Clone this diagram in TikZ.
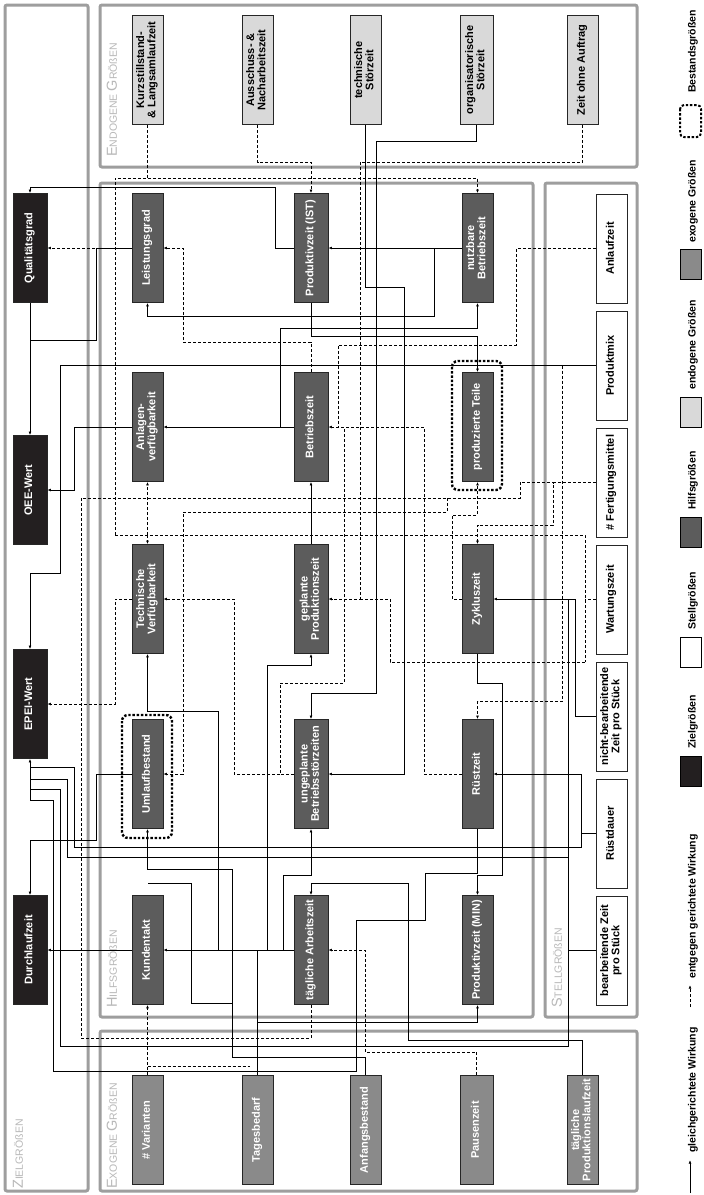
\documentclass[tikz,border=0pt]{standalone}
\usepackage{fontspec}
\setmainfont{Liberation Sans}
\usetikzlibrary{arrows.meta}
\definecolor{zielc}{HTML}{231F20}
\definecolor{hilfc}{HTML}{5C5C5C}
\definecolor{endoc}{HTML}{D9D9D9}
\definecolor{exoc}{HTML}{8A8A8A}
\definecolor{framec}{HTML}{9E9E9E}
\definecolor{labc}{HTML}{B8B8B8}
\newcommand\vtxt[1]{\rotatebox{90}{\def\arraystretch{0.9}\begin{tabular}{@{}c@{}}#1\end{tabular}}}
\newcommand\grp[2]{{\fontsize{14.5}{14}\selectfont #1}{\fontsize{10.5}{11}\selectfont #2}}
\begin{document}
\begin{tikzpicture}[x=1pt,y=-1pt,
 bx/.style={draw=black!85, line width=0.6pt, inner sep=0pt, minimum width=31pt, minimum height=109pt, font=\bfseries\fontsize{11}{12.5}\selectfont},
 ziel/.style={bx, fill=zielc, text=white, minimum width=34pt},
 hilf/.style={bx, fill=hilfc, text=white},
 endo/.style={bx, fill=endoc, text=black},
 exo/.style={bx, fill=exoc, text=white},
 stell/.style={bx, fill=white, text=black},
 frame/.style={draw=framec, line width=3pt, rounded corners=2pt},
 glab/.style={rotate=90, anchor=west, text=labc, inner sep=0pt},
 sol/.style={line width=0.7pt, draw=black},
 das/.style={sol, dash pattern=on 3pt off 2pt},
 arr/.style={-{Latex[length=3.6pt,width=2.8pt]}},
 bestand/.style={draw=black, line width=2.4pt, dash pattern=on 2.4pt off 1.8pt, rounded corners=6pt},
 leg/.style={rotate=90, anchor=west, inner sep=0pt, font=\bfseries\fontsize{10.5}{11}\selectfont},
 legbox/.style={draw=black, line width=0.8pt, minimum width=21pt, minimum height=30pt, inner sep=0pt}
]
\useasboundingbox (0,0) rectangle (704,1195);
\fill[white] (0,0) rectangle (704,1195);
% frames
\draw[frame] (5,5) rectangle (88,1191);
\draw[frame] (100,5) rectangle (637,167);
\draw[frame] (100,183) rectangle (533,1017);
\draw[frame] (545,183) rectangle (637,1017);
\draw[frame] (100,1031) rectangle (637,1191);
\node[glab] (lz) at (18,1189) {\grp{Z}{IELGRÖßEN}};
\node[glab] (lx) at (112,1189) {\grp{E}{XOGENE }\grp{G}{RÖßEN}};
\node[glab] (lh) at (112,1008) {\grp{H}{ILFSGRÖßEN}};
\node[glab] (le) at (112,157) {\grp{E}{NDOGENE }\grp{G}{RÖßEN}};
\node[glab] (ls) at (557,1008) {\grp{S}{TELLGRÖßEN}};
% bestand outlines
\draw[bestand] (122,715) rectangle (172,838);
\draw[bestand] (452,361) rectangle (502,490);
% ziel
\node[ziel] (QG) at (30,248) {\vtxt{Qualitätsgrad}};
\node[ziel] (OEE) at (30,490) {\vtxt{OEE-Wert}};
\node[ziel] (EPEI) at (30,704) {\vtxt{EPEI-Wert}};
\node[ziel] (DLZ) at (30,950) {\vtxt{Durchlaufzeit}};
% hilfs
\node[hilf] (LG) at (147.5,248) {\vtxt{Leistungsgrad}};
\node[hilf] (AV) at (147.5,427) {\vtxt{Anlagen-\\verfügbarkeit}};
\node[hilf] (TV) at (147.5,599) {\vtxt{Technische\\Verfügbarkeit}};
\node[hilf] (UB) at (147.5,774) {\vtxt{Umlaufbestand}};
\node[hilf] (KT) at (147.5,950) {\vtxt{Kundentakt}};
\node[hilf, minimum width=34pt] (PIST) at (311,248) {\vtxt{Produktivzeit (IST)}};
\node[hilf, minimum width=34pt] (BZ) at (311,427) {\vtxt{Betriebszeit}};
\node[hilf, minimum width=34pt] (GPZ) at (311,599) {\vtxt{geplante\\Produktionszeit}};
\node[hilf, minimum width=34pt] (UBS) at (311,774) {\vtxt{ungeplante\\Betriebsstörzeiten}};
\node[hilf, minimum width=34pt] (TAZ) at (311,950) {\vtxt{tägliche Arbeitszeit}};
\node[hilf] (NBZ) at (477.5,248) {\vtxt{nutzbare\\Betriebszeit}};
\node[hilf] (PT) at (477.5,427) {\vtxt{produzierte Teile}};
\node[hilf] (ZZ) at (477.5,599) {\vtxt{Zykluszeit}};
\node[hilf] (RZ) at (477.5,774) {\vtxt{Rüstzeit}};
\node[hilf] (PMIN) at (477.5,950) {\vtxt{Produktivzeit (MIN)}};
% endogen
\node[endo] (KS) at (147.5,70) {\vtxt{Kurzstillstand-\\\& Langsamlaufzeit}};
\node[endo] (AN) at (257.5,70) {\vtxt{Ausschuss- \&\\Nacharbeitszeit}};
\node[endo] (TS) at (365.5,70) {\vtxt{technische\\Störzeit}};
\node[endo, minimum width=33pt] (OS) at (476.5,70) {\vtxt{organisatorische\\Störzeit}};
\node[endo] (ZoA) at (582.5,70) {\vtxt{Zeit ohne Auftrag}};
% stell
\node[stell] (ANL) at (611.5,248.5) {\vtxt{Anlaufzeit}};
\node[stell] (PMX) at (611.5,365.5) {\vtxt{Produktmix}};
\node[stell] (FM) at (611.5,482.5) {\vtxt{\# Fertigungsmittel}};
\node[stell] (WZ) at (611.5,599.5) {\vtxt{Wartungszeit}};
\node[stell] (NBZS) at (611.5,716.5) {\vtxt{nicht-bearbeitende\\Zeit pro Stück}};
\node[stell] (RD) at (611.5,833.5) {\vtxt{Rüstdauer}};
\node[stell] (BZS) at (611.5,950.5) {\vtxt{bearbeitende Zeit\\pro Stück}};
% exogen
\node[exo] (VAR) at (147.5,1130) {\vtxt{\# Varianten}};
\node[exo] (TB) at (257.5,1130) {\vtxt{Tagesbedarf}};
\node[exo] (AB) at (365.5,1130) {\vtxt{Anfangsbestand}};
\node[exo, minimum width=33pt] (PZ) at (476.5,1130) {\vtxt{Pausenzeit}};
\node[exo] (TPL) at (582.5,1130) {\vtxt{tägliche\\Produktionslaufzeit}};
% ---------- connectors
\draw[das] (KS.south) -- (147.5,178);
\draw[das,arr] (115,535) -- (115,178) -- (477.5,178) -- (NBZ.north);
\draw[das] (115,535) -- (585,535) -- (585,662);
\draw[das,arr] (147.5,535) -- (AV.south);
\draw[das,arr] (147.5,535) -- (TV.north);
\draw[das,arr] (AN.south) -- (257.5,162) -- (311,162) -- (PIST.north);
\draw[das,arr] (ZoA.south) -- (582.5,162) -- (360,162) -- (360,599) -- (GPZ.east);
\draw[das] (WZ.west) -- (585,599.5);
\draw[das] (585,662) -- (390,662) -- (390,599) -- (360,599);
\draw[sol,arr] (TS.south) -- (365.5,287) -- (404,287) -- (404,774) -- (UBS.east);
\draw[sol,arr] (OS.south) -- (476.5,141) -- (376,141) -- (376,693) -- (311,693) -- (UBS.north);
\draw[sol,arr] (NBZ.west) -- (PIST.east);
\draw[sol,arr] (PIST.west) -- (275,248) -- (275,187) -- (30,187) -- (QG.north);
\draw[das,arr] (BZ.north) -- (311,342) -- (183,342) -- (183,248) -- (LG.east);
\draw[sol] (LG.west) -- (96,248) -- (96,340) -- (30,340);
\draw[sol,arr] (QG.south) -- (OEE.north);
\draw[das,arr] (115,248) -- (QG.east);
\draw[sol,arr] (434,248) -- (434,316) -- (147.5,316) -- (LG.south);
\draw[sol,arr] (280,427) -- (280,328) -- (477.5,328) -- (NBZ.south);
\draw[sol,arr] (BZ.west) -- (AV.east);
\draw[sol,arr] (PIST.south) -- (311,336) -- (477.5,336) -- (PT.north);
\draw[sol,arr] (PMX.west) -- (60,365.5) -- (60,573) -- (30,573) -- (EPEI.north);
\draw[sol,arr] (AV.west) -- (74,427) -- (74,490) -- (OEE.east);
\draw[das,arr] (ANL.west) -- (516,248.5) -- (516,345) -- (338,345) -- (338,427) -- (BZ.east);
\draw[das] (RZ.west) -- (424,774) -- (424,427) -- (338,427);
\draw[das] (UBS.west) -- (280,774) -- (280,683) -- (344,683) -- (344,427);
\draw[das,arr] (280,774) -- (234,774) -- (234,599) -- (TV.east);
\draw[das,arr] (TV.west) -- (115,599) -- (115,704) -- (EPEI.east);
\draw[das,arr] (FM.west) -- (553,482.5) -- (553,525) -- (477.5,525) -- (ZZ.north);
\draw[das,arr] (ZZ.west) -- (452,599) -- (452,515) -- (477.5,515) -- (PT.south);
\draw[das,arr] (447,498) -- (447,512) -- (183,512) -- (183,774) -- (UB.east);
\draw[sol,arr] (267,950) -- (267,665) -- (311,665) -- (GPZ.south);
\draw[sol,arr] (GPZ.north) -- (BZ.south);
\draw[sol,arr] (UB.west) -- (96,774) -- (96,840) -- (30,840) -- (DLZ.north);
\draw[sol,arr] (TAZ.west) -- (KT.east);
\draw[sol,arr] (KT.west) -- (DLZ.east);
\draw[das,arr] (VAR.north) -- (KT.south);
\draw[das] (147.5,1066) -- (250,1066);
\draw[das,arr] (PZ.north) -- (476.5,1052) -- (365,1052) -- (365,950) -- (TAZ.east);
\draw[sol,arr] (TPL.north) -- (582.5,1040) -- (408,1040) -- (408,883) -- (311,883) -- (TAZ.north);
\draw[das] (TAZ.south) -- (311,1038) -- (81,1038) -- (81,498) -- (520,498) -- (520,482.5) -- (553,482.5);
\draw[sol,arr] (218,950) -- (218,711) -- (147.5,711) -- (TV.south);
\draw[sol,arr] (283,950) -- (283,875) -- (311,875) -- (UBS.south);
\draw[sol,arr] (AB.north) -- (365.5,1057) -- (232,1057) -- (232,869) -- (147.5,869) -- (UB.south);
\draw[sol] (232,1003) -- (191,1003) -- (191,883) -- (147.5,883);
\draw[das,arr] (562,365.5) -- (562,701) -- (477.5,701) -- (RZ.north);
\draw[sol,arr] (NBZS.west) -- (575,716.5) -- (575,599) -- (ZZ.east);
\draw[sol] (BZS.west) -- (568,950.5) -- (568,599);
\draw[sol] (568,950.5) -- (568,1040);
\draw[sol,arr] (RD.west) -- (581,833.5) -- (581,774) -- (RZ.east);
\draw[sol,arr] (ZZ.south) -- (477.5,683) -- (502,683) -- (502,875) -- (477.5,875) -- (PMIN.north);
\draw[sol,arr] (TB.north) -- (257.5,1022) -- (477.5,1022) -- (PMIN.south);
\draw[sol] (257.5,1022) -- (257.5,950);
\draw[sol,arr] (30,800) -- (EPEI.south);
\draw[sol] (30,767) -- (74,767) -- (74,847) -- (581,847) -- (581,833.5);
\draw[sol] (30,779) -- (67,779) -- (67,857) -- (568,857);
\draw[sol] (30,789) -- (60,789) -- (60,1046) -- (568,1046) -- (568,1040);
\draw[sol] (30,800) -- (53,800) -- (53,1071) -- (356,1071) -- (356,920) -- (425,920) -- (425,873) -- (477.5,873) -- (RZ.south);
% ---------- legend
\draw[sol,arr] (690,1193) -- (690,1160);
\node[leg] (lg1) at (693,1153) {gleichgerichtete Wirkung};
\draw[das,arr] (690,1007) -- (690,985);
\node[leg] (lg2) at (693,979) {entgegen gerichtete Wirkung};
\node[legbox, fill=zielc] (lb1) at (690.5,771) {};
\node[leg] (lg3) at (693,749) {Zielgrößen};
\node[legbox, fill=white] (lb2) at (690.5,652) {};
\node[leg] (lg4) at (693,630) {Stellgrößen};
\node[legbox, fill=hilfc] (lb3) at (690.5,532) {};
\node[leg] (lg5) at (693,510) {Hilfsgrößen};
\node[legbox, fill=endoc] (lb4) at (690.5,412) {};
\node[leg] (lg6) at (693,390) {endogene Größen};
\node[legbox, fill=exoc] (lb5) at (690.5,264) {};
\node[leg] (lg7) at (693,243) {exogene Größen};
\draw[bestand, line width=2pt, rounded corners=4pt] (680,105) rectangle (701,137);
\node[leg] (lg8) at (693,93) {Bestandsgrößen};
\end{tikzpicture}
\end{document}
